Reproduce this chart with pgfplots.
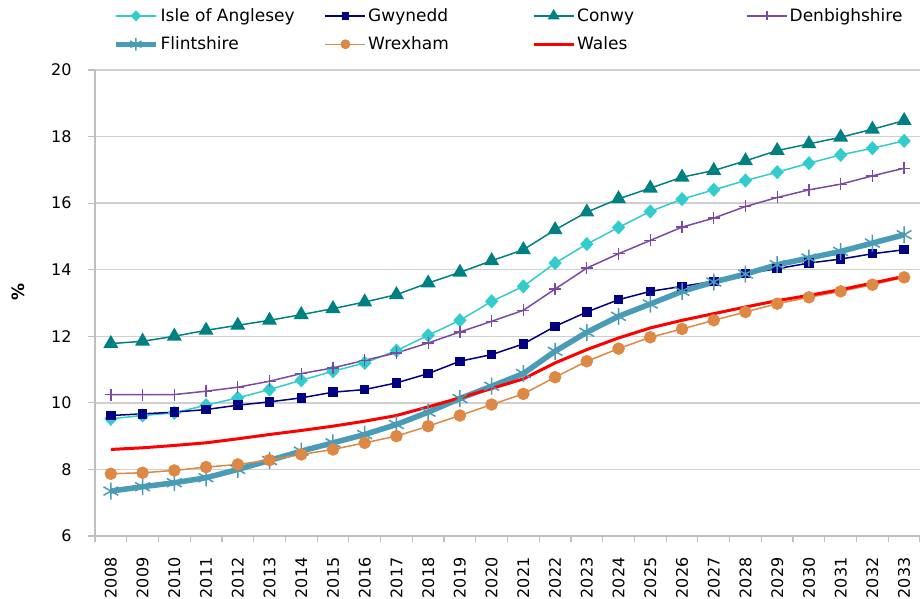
\documentclass[border=0pt]{standalone}
\usepackage{pgfplots}
\usepackage{pgfplotstable}
\pgfplotsset{compat=1.18}
\usepackage{fontspec}
\setmainfont{DejaVu Sans}
\definecolor{cAng}{HTML}{33CCCC}
\definecolor{cGwy}{HTML}{000080}
\definecolor{cCon}{HTML}{008080}
\definecolor{cDen}{HTML}{7A4AA6}
\definecolor{cFli}{HTML}{4A9BB5}
\definecolor{cWre}{HTML}{DD8844}
\definecolor{cWal}{HTML}{FF0000}
\definecolor{cGrid}{HTML}{D0D0D0}
\definecolor{cAxis}{HTML}{BFBFBF}
\pgfplotstableread{
x A G C D F W Wa
0 9.52 9.62 11.78 10.25 7.35 7.87 8.60
1 9.62 9.67 11.85 10.25 7.48 7.90 8.65
2 9.70 9.72 12.00 10.25 7.60 7.97 8.72
3 9.93 9.80 12.18 10.35 7.75 8.07 8.80
4 10.15 9.93 12.33 10.47 8.00 8.15 8.92
5 10.40 10.03 12.48 10.65 8.27 8.28 9.05
6 10.68 10.15 12.65 10.88 8.55 8.45 9.17
7 10.95 10.32 12.83 11.05 8.80 8.60 9.30
8 11.20 10.40 13.03 11.28 9.05 8.80 9.45
9 11.57 10.60 13.25 11.50 9.35 9.00 9.62
10 12.03 10.88 13.60 11.80 9.72 9.30 9.88
11 12.48 11.25 13.92 12.13 10.13 9.62 10.15
12 13.05 11.45 14.27 12.45 10.50 9.95 10.43
13 13.50 11.77 14.60 12.78 10.88 10.27 10.72
14 14.20 12.30 15.20 13.42 11.55 10.77 11.20
15 14.77 12.73 15.73 14.05 12.12 11.25 11.60
16 15.27 13.10 16.13 14.48 12.60 11.63 11.95
17 15.75 13.35 16.45 14.88 12.97 11.97 12.25
18 16.12 13.50 16.78 15.28 13.35 12.22 12.48
19 16.40 13.65 16.98 15.55 13.63 12.48 12.68
20 16.68 13.88 17.27 15.90 13.87 12.73 12.88
21 16.93 14.03 17.58 16.17 14.15 12.98 13.07
22 17.20 14.20 17.78 16.40 14.35 13.17 13.23
23 17.45 14.32 17.98 16.57 14.55 13.35 13.40
24 17.65 14.48 18.22 16.82 14.80 13.55 13.60
25 17.87 14.60 18.48 17.05 15.05 13.77 13.80
}\data
\begin{document}
\begin{tikzpicture}
\begin{axis}[
  name=ax,
  scale only axis,
  width=825pt, height=466pt,
  xmin=-0.5, xmax=25.5,
  ymin=6, ymax=20,
  ytick={6,8,...,20},
  xtick={0,...,25},
  xticklabels={2008,2009,2010,2011,2012,2013,2014,2015,2016,2017,2018,2019,2020,2021,2022,2023,2024,2025,2026,2027,2028,2029,2030,2031,2032,2033},
  minor xtick={-0.5,0.5,...,25.5},
  major x tick style={draw=none},
  minor x tick style={draw=cAxis, line width=1.2pt},
  major y tick style={draw=cAxis, line width=1.2pt},
  tick align=outside,
  major tick length=7pt,
  minor tick length=6pt,
  axis x line*=bottom,
  axis y line*=left,
  axis line style={draw=cAxis, line width=1.5pt, -},
  ymajorgrids,
  major grid style={draw=cGrid, line width=1.4pt},
  tick label style={font=\fontsize{16}{19}\selectfont},
  /pgf/number format/assume math mode=true,
  yticklabel style={xshift=-13pt},
  xticklabel style={yshift=-11pt, rotate=90, anchor=east},
  every axis y label/.style={at={(axis description cs:-0.0927,0.523)}, rotate=90, anchor=center, font=\fontsize{17}{20}\selectfont\bfseries},
  ylabel={\%},
  clip=false,
  legend columns=4,
  legend cell align=left,
  legend style={at={(axis description cs:0.0218,1.1364)}, anchor=north west, draw=none, fill=none,
    font=\fontsize{17}{20}\selectfont, row sep=10pt, column sep=0pt, inner sep=0pt},
  legend image code/.code={\draw[mark repeat=2,mark phase=2, every mark/.append style={scale=0.75}] plot coordinates {(0pt,0pt)(20pt,0pt)(40pt,0pt)};},
]
\addplot[color=cAng, line width=1.5pt, mark=diamond*, mark size=6pt, mark options={xscale=1.25, solid}] table[x=x,y=A]{\data};
\addlegendentry{\makebox[162pt][l]{Isle of Anglesey}}
\addplot[color=cGwy, line width=1.5pt, mark=square*, mark size=4pt, mark options={solid}] table[x=x,y=G]{\data};
\addlegendentry{\makebox[162pt][l]{Gwynedd}}
\addplot[color=cCon, line width=1.5pt, mark=triangle*, mark size=7.2pt, mark options={solid}] table[x=x,y=C]{\data};
\addlegendentry{\makebox[167pt][l]{Conwy}}
\addplot[color=cDen, line width=1.5pt, mark=+, mark size=6pt, mark options={solid, line width=1.3pt}] table[x=x,y=D]{\data};
\addlegendentry{Denbighshire}
\addplot[color=cFli, line width=5.5pt, mark=asterisk, mark size=8.5pt, mark options={solid, line width=1.5pt}] table[x=x,y=F]{\data};
\addlegendentry{\makebox[162pt][l]{Flintshire}}
\addplot[color=cWre, line width=1.5pt, mark=*, mark size=5.5pt, mark options={solid}] table[x=x,y=W]{\data};
\addlegendentry{\makebox[162pt][l]{Wrexham}}
\addplot[color=cWal, line width=3pt, no marks] table[x=x,y=Wa]{\data};
\addlegendentry{\makebox[167pt][l]{Wales}}
\end{axis}
\pgfresetboundingbox
\path[use as bounding box] ([xshift=-95pt,yshift=-62pt]ax.south west) rectangle ([yshift=70pt]ax.north east);
\end{tikzpicture}
\end{document}
